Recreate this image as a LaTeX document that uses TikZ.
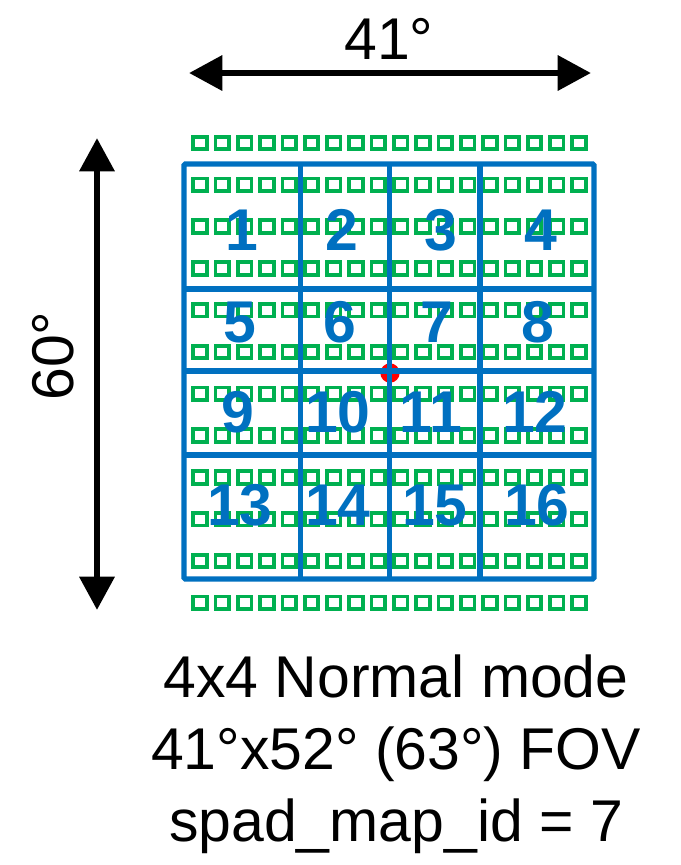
\documentclass[tikz,border=0pt]{standalone}
\usepackage{xcolor}
\usepackage{fontspec}
\setmainfont{Liberation Sans}
\usetikzlibrary{positioning,arrows.meta}
\definecolor{zoneblue}{HTML}{0070C0}
\definecolor{spadgreen}{HTML}{00B050}
\begin{document}
\begin{tikzpicture}[
  x=0.75pt, y=-0.75pt,
  font=\fontsize{44.2}{54}\selectfont, >={Triangle[length=25pt,width=25.5pt]},
  span/.style={<->,line width=5pt},
  spad/.style={draw=spadgreen,line width=2.8pt,inner sep=0pt,minimum width=10.2pt,minimum height=9.4pt},
  zone/.style={draw=zoneblue,line width=4pt},
  zonenum/.style={text=zoneblue,font=\fontsize{44.2}{54}\selectfont\bfseries,anchor=base,inner sep=0pt}
]
\useasboundingbox (0,0) rectangle (681,865);
\coordinate (wl) at (189,73);
\coordinate (wr) at (591,73);
\coordinate (ht) at (97,138);
\coordinate (hb) at (97,610);
\draw[span] (wl) -- (wr);
\draw[span] (ht) -- (hb);
\node[anchor=base,inner sep=0pt] (wlabel) at (389,59) {41°};
\node[anchor=base,rotate=90,inner sep=0pt] (hlabel) at (73,356) {60°};
% spad rows
\foreach \r in {0,...,11}
  \foreach \c in {0,...,17}
    \node[spad] (s\r-\c) at ({200+22.3*\c},{143+41.8*\r}) {};
\node[circle,fill=red,inner sep=0pt,minimum size=14.5pt] (centre) at (390,373) {};
% zones
\draw[zone,rounded corners=1pt] (184,164) rectangle (594,579);
\foreach \x in {300.5,389.5,480}
  \draw[zone] (\x,164) -- (\x,579);
\foreach \y in {289,371,455}
  \draw[zone] (184,\y) -- (594,\y);
\foreach \n/\x/\y in {1/242/250,2/342/250,3/441/250,4/541/250,
    5/240/342,6/340/342,7/437/342,8/538/342,
    9/238/432,10/338/432,11/431/432,12/535/432,
    13/240/525,14/338/525,15/435/525,16/537/525}
  \node[zonenum] (z\n) at (\x,\y) {\n};
\node[align=center,anchor=base,inner sep=0pt] (caption) at (396,841) {4x4 Normal mode\\41°x52° (63°) FOV\\spad\_map\_id = 7};
\end{tikzpicture}
\end{document}
